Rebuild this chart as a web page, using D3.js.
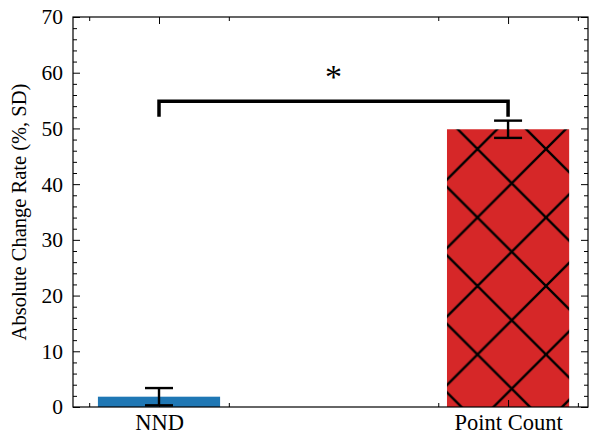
<!DOCTYPE html>
<html>
<head>
<meta charset="utf-8">
<script src="https://cdn.jsdelivr.net/npm/d3@7"></script>
<style>
  body { margin: 0; background: #fff; }
</style>
</head>
<body>
<div id="chart"></div>
<script>
var categories = ["NND", "Point Count"];
var means = [1.85, 49.85];
var sds = [1.55, 1.55];
var colors = ["#1f77b4", "#d62728"];
var yTicks = [0, 10, 20, 30, 40, 50, 60, 70];
var sigLabel = "*";

var serif = "Liberation Serif";
var margin = {top: 17, right: 2, bottom: 27, left: 73};
var width = 590 - margin.left - margin.right;
var height = 434 - margin.top - margin.bottom;

var svg = d3.select("#chart").append("svg")
  .attr("width", 590)
  .attr("height", 434)
  .attr("font-family", serif);

// hatch pattern for the second bar
var defs = svg.append("defs");
var pat = defs.append("pattern")
  .attr("id", "xhatch")
  .attr("patternUnits", "userSpaceOnUse")
  .attr("x", 473).attr("y", 406)
  .attr("width", 68.5).attr("height", 68.5);
pat.append("rect").attr("width", 68.5).attr("height", 68.5).attr("fill", colors[1]);
pat.append("path")
  .attr("d", "M-2,-2L70.5,70.5M70.5,-2L-2,70.5")
  .attr("stroke", "#000").attr("stroke-width", 2.4);

var g = svg.append("g")
  .attr("transform", "translate(" + margin.left + "," + margin.top + ")");

var x = d3.scaleLinear().domain([-0.2464, 1.229]).range([0, width]);
var y = d3.scaleLinear().domain([0, 70]).range([height, 0]);
var barW = 0.35;

// bars
g.selectAll(".bar")
  .data(means)
  .enter().append("rect")
  .attr("class", "bar")
  .attr("x", function(d, i) { return x(i - barW / 2); })
  .attr("width", x(barW) - x(0))
  .attr("y", function(d) { return y(d); })
  .attr("height", function(d) { return height - y(d); })
  .attr("fill", function(d, i) { return i == 1 ? "url(#xhatch)" : colors[i]; });

// error bars
var eb = g.selectAll(".err")
  .data(means)
  .enter().append("g")
  .attr("class", "err")
  .attr("stroke", "#000")
  .attr("stroke-width", 2.4);
eb.append("line")
  .attr("x1", function(d, i) { return x(i); })
  .attr("x2", function(d, i) { return x(i); })
  .attr("y1", function(d, i) { return y(d - sds[i]); })
  .attr("y2", function(d, i) { return y(d + sds[i]); });
[-1, 1].forEach(function(s) {
  eb.append("line")
    .attr("x1", function(d, i) { return x(i) - 14; })
    .attr("x2", function(d, i) { return x(i) + 14; })
    .attr("y1", function(d, i) { return y(d + s * sds[i]); })
    .attr("y2", function(d, i) { return y(d + s * sds[i]); });
});

// significance bracket
g.append("path")
  .attr("d", "M" + x(0) + "," + y(52.1) + "V" + y(54.9) + "H" + x(1) + "V" + y(52.1))
  .attr("fill", "none")
  .attr("stroke", "#000")
  .attr("stroke-width", 3.5);
g.append("text")
  .attr("x", (x(0) + x(1)) / 2)
  .attr("y", y(57.2))
  .attr("text-anchor", "middle")
  .attr("font-size", 34)
  .text(sigLabel);

// axes: ticks inward on all four sides
var minorX = [];
categories.forEach(function(c, i) { minorX.push(i - 0.2, i + 0.2); });
var minorY = d3.range(0, 71, 2).filter(function(v) { return v % 10 != 0; });

function styleAxis(sel, fs) {
  sel.attr("font-family", serif);
  sel.select(".domain").remove();
  sel.selectAll("line").attr("stroke", "#000").attr("stroke-width", 1);
  sel.selectAll("text").attr("font-size", fs || 21).attr("fill", "#000");
}

g.append("g")
  .attr("transform", "translate(0," + height + ")")
  .call(d3.axisBottom(x).tickValues([0, 1]).tickFormat(function(d) { return categories[d]; })
    .tickSizeInner(-7).tickSizeOuter(0).tickPadding(7))
  .call(styleAxis, 22.5);
g.append("g")
  .attr("transform", "translate(0," + height + ")")
  .call(d3.axisBottom(x).tickValues(minorX).tickFormat("").tickSizeInner(-4).tickSizeOuter(0))
  .call(styleAxis);
g.append("g")
  .call(d3.axisTop(x).tickValues([0, 1]).tickFormat("").tickSizeInner(-7).tickSizeOuter(0))
  .call(styleAxis);
g.append("g")
  .call(d3.axisTop(x).tickValues(minorX).tickFormat("").tickSizeInner(-4).tickSizeOuter(0))
  .call(styleAxis);

g.append("g")
  .call(d3.axisLeft(y).tickValues(yTicks).tickSizeInner(-7).tickSizeOuter(0).tickPadding(10))
  .call(styleAxis, 21.5);
g.append("g")
  .call(d3.axisLeft(y).tickValues(minorY).tickFormat("").tickSizeInner(-4).tickSizeOuter(0))
  .call(styleAxis);
g.append("g")
  .attr("transform", "translate(" + width + ",0)")
  .call(d3.axisRight(y).tickValues(yTicks).tickFormat("").tickSizeInner(-7).tickSizeOuter(0))
  .call(styleAxis);
g.append("g")
  .attr("transform", "translate(" + width + ",0)")
  .call(d3.axisRight(y).tickValues(minorY).tickFormat("").tickSizeInner(-4).tickSizeOuter(0))
  .call(styleAxis);

// frame
g.append("rect")
  .attr("width", width).attr("height", height)
  .attr("fill", "none").attr("stroke", "#000").attr("stroke-width", 1.2);

// y label
svg.append("text")
  .attr("transform", "translate(26," + (margin.top + height / 2) + ") rotate(-90)")
  .attr("text-anchor", "middle")
  .attr("font-size", 20.5)
  .text("Absolute Change Rate (%, SD)");
</script>
</body>
</html>
